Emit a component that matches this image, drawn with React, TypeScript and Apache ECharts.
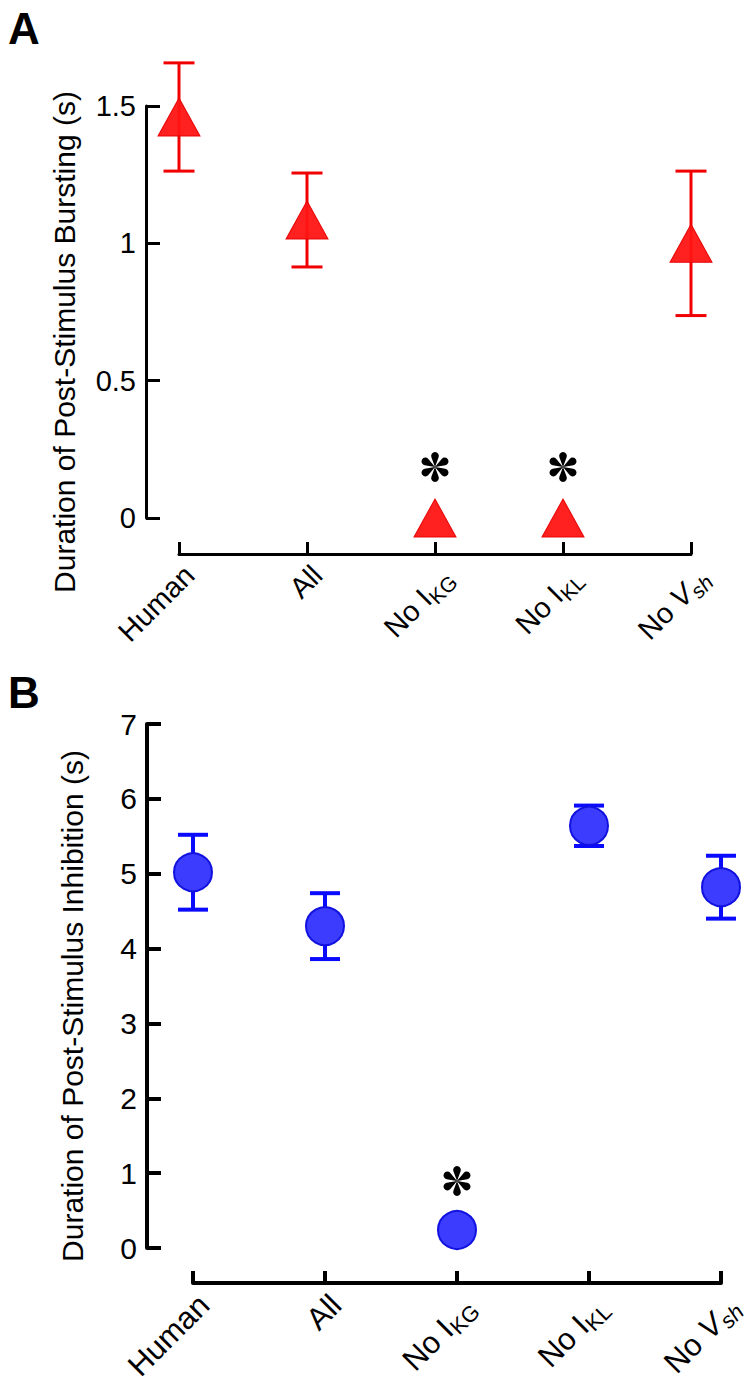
import React, { useEffect, useRef } from 'react';
import * as echarts from 'echarts';

const categories = ['Human', 'All', 'No IKG', 'No IKL', 'No Vsh'];

// Panel A: duration of post-stimulus bursting (s)
const burstMean = [1.46, 1.085, 0, 0, 1.0];
const burstErr = [0.197, 0.171, 0, 0, 0.263];
const burstSig = [false, false, true, true, false];
const burstTicks = [0, 0.5, 1, 1.5];

// Panel B: duration of post-stimulus inhibition (s)
const inhibMean = [5.02, 4.3, 0.24, 5.64, 4.82];
const inhibErr = [0.5, 0.44, 0, 0.27, 0.42];
const inhibSig = [false, false, true, false, false];
const inhibTicks = [0, 1, 2, 3, 4, 5, 6, 7];

const FONT = "'Liberation Sans', Arial, Helvetica, sans-serif";

const labelRich: Record<string, string> = {
  Human: '{n|Human}',
  All: '{n|All}',
  'No IKG': '{n|No I}{s|KG}',
  'No IKL': '{n|No I}{s|KL}',
  'No Vsh': '{n|No }{i|V}{si|sh}',
};

// six-petal asterisk
const ASTERISK =
  'path://M0 0 L-23.4 -63.3 A25 25 0 1 1 23.4 -63.3 Z ' +
  'M0 0 L43.1 -51.9 A25 25 0 1 1 66.5 -11.4 Z ' +
  'M0 0 L66.5 11.4 A25 25 0 1 1 43.1 51.9 Z ' +
  'M0 0 L23.4 63.3 A25 25 0 1 1 -23.4 63.3 Z ' +
  'M0 0 L-43.1 51.9 A25 25 0 1 1 -66.5 11.4 Z ' +
  'M0 0 L-66.5 -11.4 A25 25 0 1 1 -43.1 -51.9 Z';

function errRenderer(lineWidth: number, capW: number, color: string) {
  return (params: any, api: any) => {
    const x = api.value(0);
    const m = api.value(1);
    const e = api.value(2);
    const top = api.coord([x, m + e]);
    const bot = api.coord([x, m - e]);
    const style = { stroke: color, lineWidth, fill: null, lineCap: 'butt' };
    return {
      type: 'group',
      children: [
        { type: 'line', shape: { x1: top[0], y1: top[1], x2: bot[0], y2: bot[1] }, style },
        { type: 'line', shape: { x1: top[0] - capW / 2, y1: top[1], x2: top[0] + capW / 2, y2: top[1] }, style },
        { type: 'line', shape: { x1: bot[0] - capW / 2, y1: bot[1], x2: bot[0] + capW / 2, y2: bot[1] }, style },
      ],
    };
  };
}

function richStyles(size: number) {
  const sub = Math.round(size * 0.72);
  return {
    n: { fontSize: size, fontFamily: FONT, color: '#000' },
    i: { fontSize: size, fontFamily: FONT, color: '#000', fontStyle: 'italic' },
    s: { fontSize: sub, fontFamily: FONT, color: '#000', padding: [16, 0, 0, 0] },
    si: { fontSize: sub, fontFamily: FONT, color: '#000', fontStyle: 'italic', padding: [16, 0, 0, 0] },
  };
}

export default function App() {
  const ref = useRef<HTMLDivElement>(null);
  useEffect(() => {
    if (!ref.current) return;
    const chart = echarts.init(ref.current, undefined, { renderer: 'svg' });

    const errA = burstMean.map((m, i) => [i, m, burstErr[i]]).filter((d) => d[2] > 0);
    const errB = inhibMean.map((m, i) => [i, m, inhibErr[i]]).filter((d) => d[2] > 0);
    const ptsA = burstMean.map((m, i) => [i, m]);
    const ptsB = inhibMean.map((m, i) => [i, m]);
    const sigA = burstMean.map((m, i) => [i, m]).filter((_, i) => burstSig[i]);
    const sigB = inhibMean.map((m, i) => [i, m]).filter((_, i) => inhibSig[i]);

    const xAxisBase = (lw: number, offset: number, size: number, gridIndex: number) => ({
      type: 'category',
      gridIndex,
      data: categories,
      boundaryGap: false,
      offset,
      axisLine: { onZero: false, lineStyle: { color: '#000', width: lw } },
      axisTick: { inside: true, length: 12, interval: 0, lineStyle: { color: '#000', width: lw } },
      axisLabel: {
        rotate: 45,
        margin: 6,
        interval: 0,
        verticalAlign: 'top',
        formatter: (v: string) => labelRich[v] || v,
        rich: richStyles(size),
      },
      splitLine: { show: false },
    });

    const yAxisBase = (lw: number, offset: number, size: number, gridIndex: number, ticks: number[]) => ({
      type: 'value',
      gridIndex,
      min: ticks[0],
      max: ticks[ticks.length - 1],
      interval: ticks[1] - ticks[0],
      offset,
      axisLine: { show: true, onZero: false, lineStyle: { color: '#000', width: lw } },
      axisTick: { show: true, inside: true, length: 14, lineStyle: { color: '#000', width: lw } },
      axisLabel: { fontSize: size, fontFamily: FONT, color: '#000', margin: 10 },
      splitLine: { show: false },
    });

    const red = '#ff1414';
    const blue = '#3c3cff';

    chart.setOption({
      animation: false,
      backgroundColor: '#fff',
      grid: [
        { left: 179, top: 106, width: 512, height: 412 },
        { left: 193, top: 724, width: 528, height: 524 },
      ],
      xAxis: [xAxisBase(3, 36, 29, 0), xAxisBase(4, 35, 31, 1)],
      yAxis: [yAxisBase(3, 33, 29, 0, burstTicks), yAxisBase(4, 46, 30, 1, inhibTicks)],
      graphic: [
        { type: 'text', left: 8, top: 6, style: { text: 'A', font: `bold 44px ${FONT}`, fill: '#000' } },
        { type: 'text', left: 8, top: 670, style: { text: 'B', font: `bold 44px ${FONT}`, fill: '#000' } },
        {
          type: 'text', x: 64, y: 342, rotation: Math.PI / 2,
          style: { text: 'Duration of Post-Stimulus Bursting (s)', font: `30px ${FONT}`, fill: '#000', align: 'center', verticalAlign: 'middle' },
        },
        {
          type: 'text', x: 72, y: 1006, rotation: Math.PI / 2,
          style: { text: 'Duration of Post-Stimulus Inhibition (s)', font: `30px ${FONT}`, fill: '#000', align: 'center', verticalAlign: 'middle' },
        },
      ],
      series: [
        {
          type: 'custom', xAxisIndex: 0, yAxisIndex: 0, data: errA, z: 2, clip: false,
          renderItem: errRenderer(3, 31, '#f00000'),
        },
        {
          type: 'scatter', xAxisIndex: 0, yAxisIndex: 0, data: ptsA, z: 3, clip: false,
          symbol: 'triangle', symbolSize: [42, 38],
          itemStyle: { color: red, opacity: 0.95, borderColor: '#e60000', borderWidth: 1 },
        },
        {
          type: 'scatter', xAxisIndex: 0, yAxisIndex: 0, data: sigA, z: 3, clip: false,
          symbol: ASTERISK, symbolSize: [27, 30], symbolOffset: [0, -51],
          itemStyle: { color: '#000', opacity: 1 },
        },
        {
          type: 'custom', xAxisIndex: 1, yAxisIndex: 1, data: errB, z: 2, clip: false,
          renderItem: errRenderer(4, 30, '#0a0aff'),
        },
        {
          type: 'scatter', xAxisIndex: 1, yAxisIndex: 1, data: ptsB, z: 3, clip: false,
          symbol: 'circle', symbolSize: 38,
          itemStyle: { color: blue, opacity: 1, borderColor: '#1212e0', borderWidth: 2 },
        },
        {
          type: 'scatter', xAxisIndex: 1, yAxisIndex: 1, data: sigB, z: 3, clip: false,
          symbol: ASTERISK, symbolSize: [27, 30], symbolOffset: [0, -49],
          itemStyle: { color: '#000', opacity: 1 },
        },
      ],
    });
    return () => chart.dispose();
  }, []);
  return (
    <div
      ref={ref}
      style={{ position: 'fixed', left: 0, top: 0, width: 752, height: 1395, background: '#fff' }}
    />
  );
}
